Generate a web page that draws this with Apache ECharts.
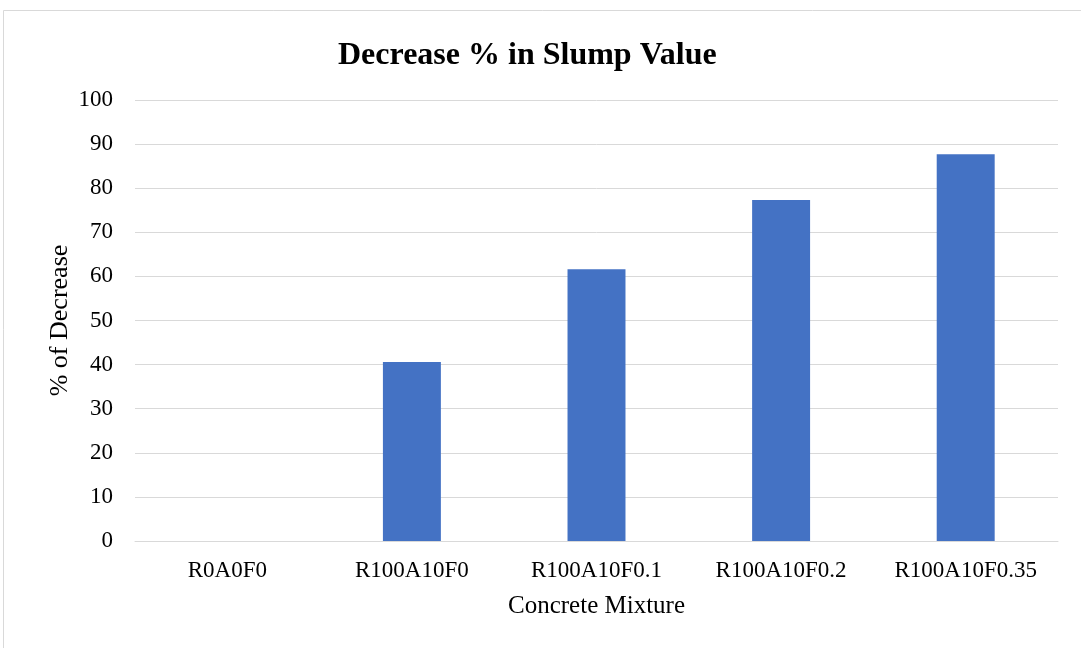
<!DOCTYPE html>
<html>
<head>
<meta charset="utf-8">
<script src="https://cdn.jsdelivr.net/npm/echarts@6/dist/echarts.min.js"></script>
<style>
  html, body { margin: 0; padding: 0; background: #ffffff; }
  #chart { width: 1081px; height: 648px; }
</style>
</head>
<body>
<div id="chart"></div>
<script>
// Slump decrease per concrete mixture
const mixtures = ['R0A0F0', 'R100A10F0', 'R100A10F0.1', 'R100A10F0.2', 'R100A10F0.35'];
const decreasePct = [0, 40.6, 61.6, 77.3, 87.7];
const yTicks = { min: 0, max: 100, interval: 10 };

const serif = '"Liberation Serif", "Times New Roman", serif';
const chart = echarts.init(document.getElementById('chart'));

chart.setOption({
  backgroundColor: '#ffffff',
  animation: false,
  graphic: [{
    type: 'rect',
    shape: { x: 3.5, y: 10.5, width: 1090, height: 650 },
    style: { fill: 'none', stroke: '#d9d9d9', lineWidth: 1 },
    silent: true
  }],
  title: {
    text: 'Decrease % in Slump Value',
    left: 333,
    top: 35,
    textStyle: { fontFamily: serif, fontWeight: 'bold', fontSize: 32, color: '#000000' }
  },
  grid: { left: 135, right: 23, top: 100, bottom: 107, containLabel: false },
  xAxis: {
    type: 'category',
    data: mixtures,
    name: 'Concrete Mixture',
    nameLocation: 'middle',
    nameGap: 53,
    nameMoveOverlap: false,
    nameTextStyle: { fontFamily: serif, fontSize: 25, color: '#000000' },
    axisLine: { show: true, lineStyle: { color: '#d9d9d9', width: 1 } },
    axisTick: { show: false },
    axisLabel: { interval: 0, fontFamily: serif, fontSize: 23, color: '#000000', margin: 18 }
  },
  yAxis: {
    type: 'value',
    min: yTicks.min,
    max: yTicks.max,
    interval: yTicks.interval,
    name: '% of Decrease',
    nameLocation: 'middle',
    nameGap: 62,
    nameMoveOverlap: false,
    nameTextStyle: { fontFamily: serif, fontSize: 26, color: '#000000' },
    axisLine: { show: false },
    axisTick: { show: false },
    axisLabel: { fontFamily: serif, fontSize: 23, color: '#000000', margin: 22 },
    splitLine: { lineStyle: { color: '#d9d9d9', width: 1 } }
  },
  series: [{
    type: 'bar',
    data: decreasePct,
    barWidth: '31.4%',
    itemStyle: { color: '#4472c4' }
  }]
});
</script>
</body>
</html>
